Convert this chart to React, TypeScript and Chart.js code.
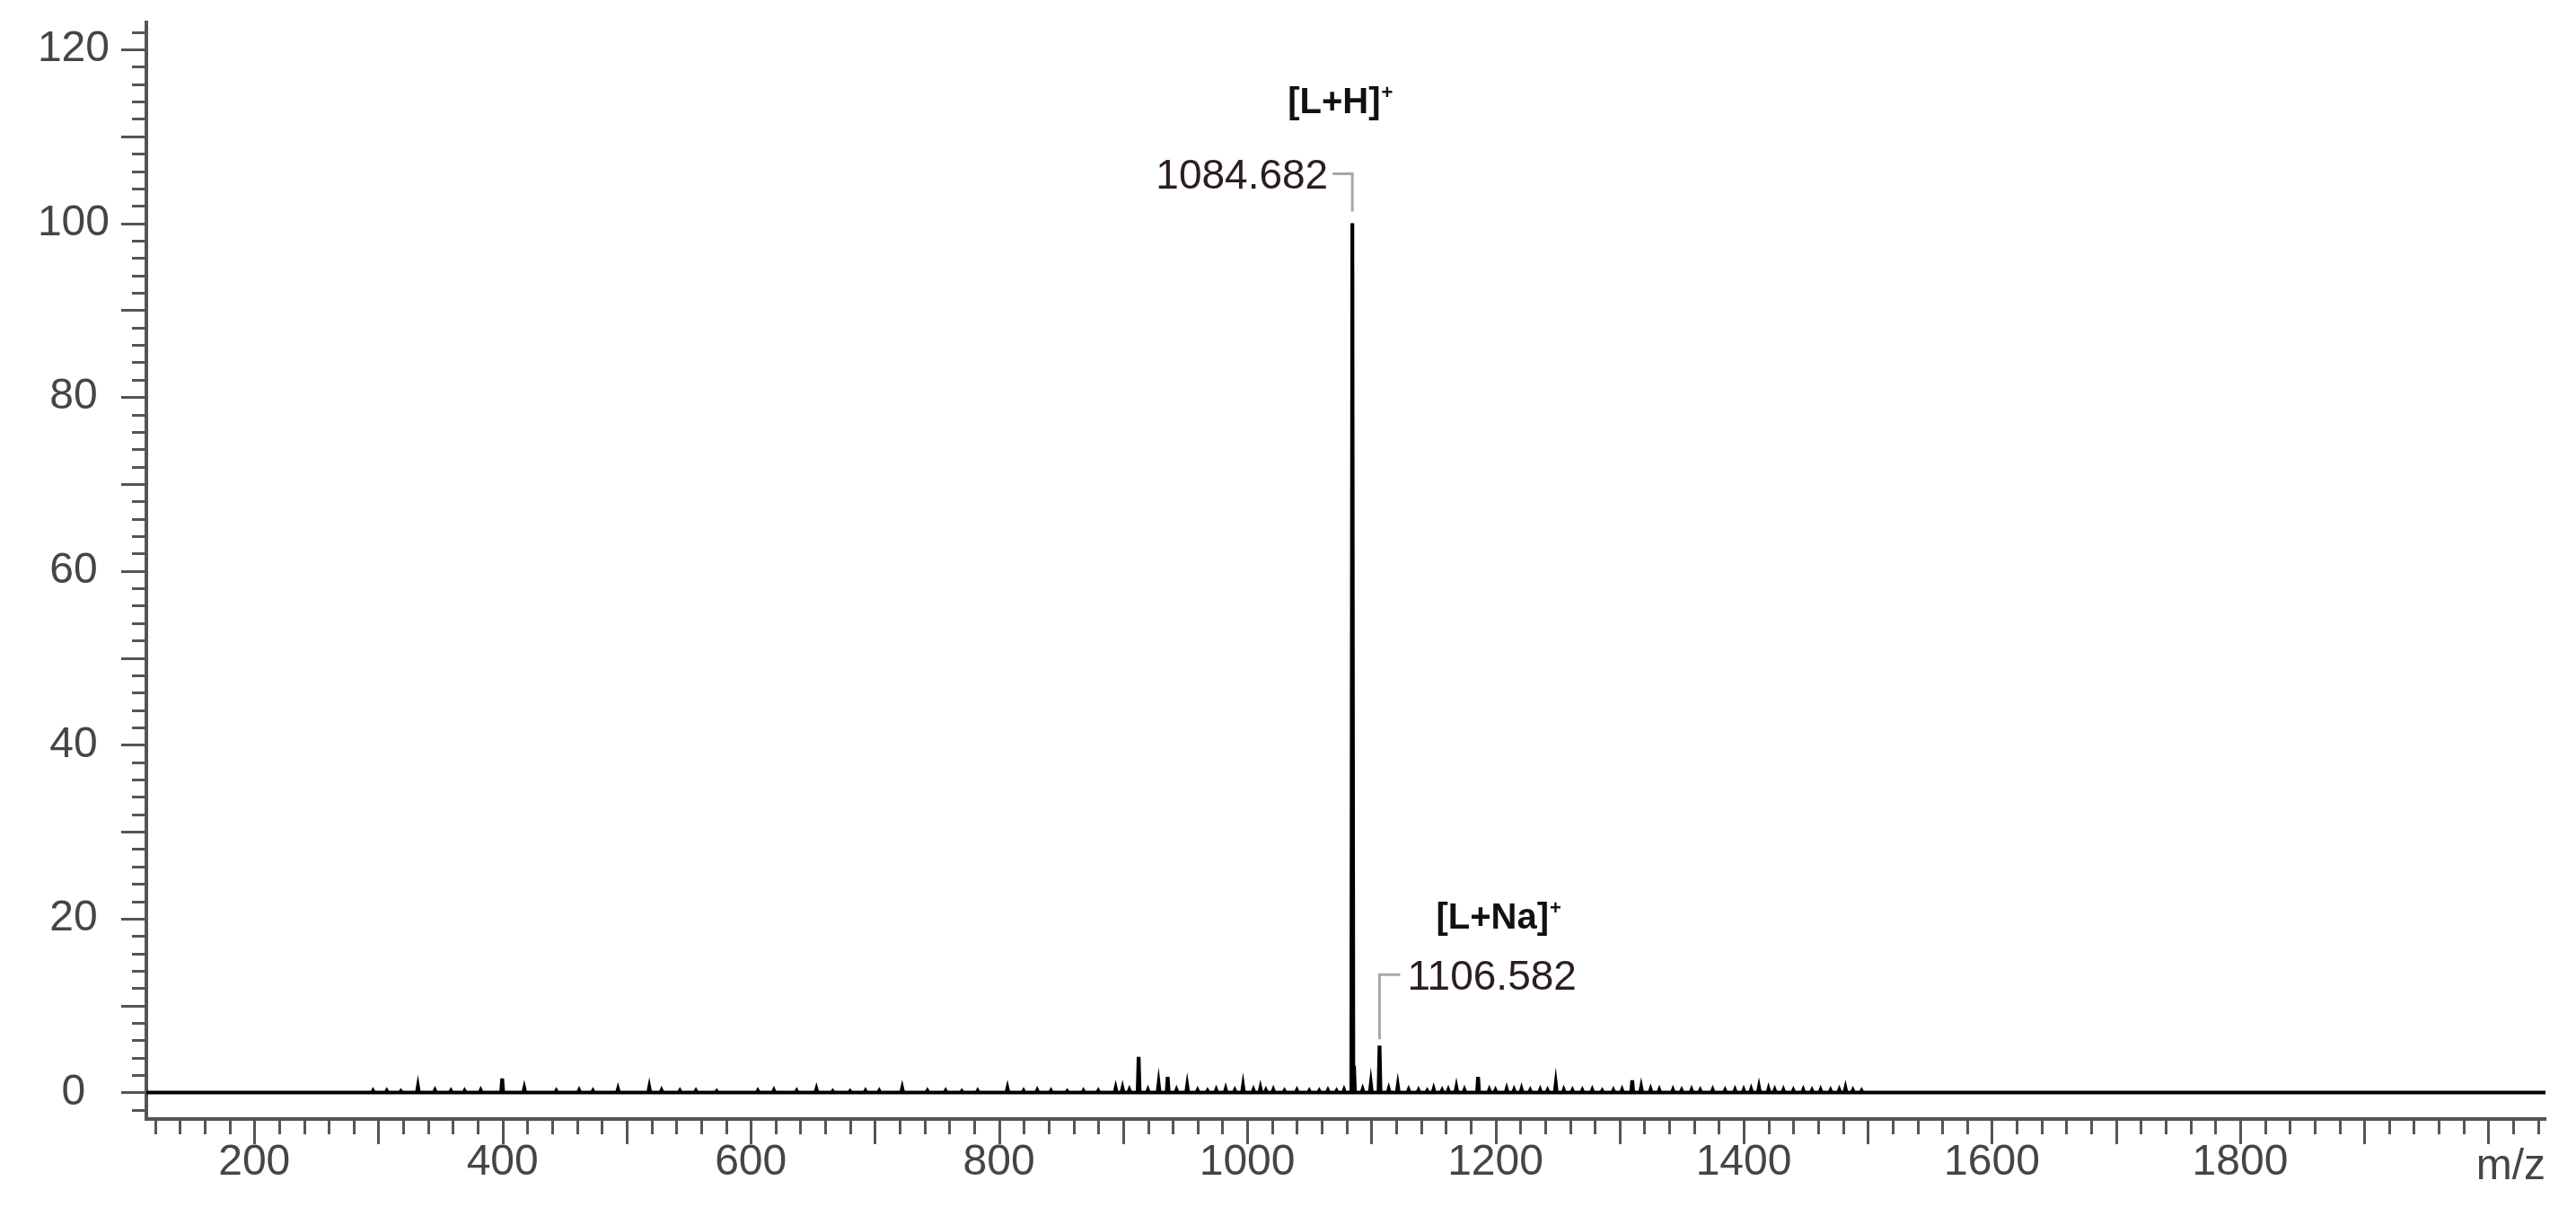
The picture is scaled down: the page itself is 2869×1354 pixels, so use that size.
import React, { useEffect, useRef } from "react";
import { Chart, registerables } from "chart.js";

Chart.register(...registerables);

// ---------- data ----------
const xLabelTicks = [200, 400, 600, 800, 1000, 1200, 1400, 1600, 1800];
const yLabelTicks = [0, 20, 40, 60, 80, 100, 120];
const xRange = [113, 2046];
const yRange = [-3.05, 123.1];
const xAxisUnit = "m/z";

// [m/z, relative intensity]
const majorPeaks: [number, number][] = [
  [331.8, 0.7], [399.7, 1.6], [417.5, 0.5], [493.0, 0.4], [518.2, 0.6],
  [652.9, 0.4], [722.0, 0.5], [806.8, 0.5], [894.0, 0.5], [899.5, 0.5],
  [912.5, 4.1], [928.6, 1.0], [935.9, 1.8], [951.6, 0.8], [982.6, 0.4],
  [996.6, 0.8], [1010.6, 0.5], [1021.0, 0.3], [1084.682, 100], [1086.0, 3.1],
  [1099.6, 1.0], [1106.582, 5.4], [1114.0, 0.4], [1121.3, 0.8], [1150.2, 0.4],
  [1168.5, 0.6], [1186.0, 1.8], [1209.0, 0.4], [1221.0, 0.4], [1248.6, 1.0],
  [1286.0, 0.2], [1310.2, 1.4], [1317.4, 0.6], [1343.0, 0.3], [1412.3, 0.6],
  [1420.0, 0.4], [1482.0, 0.5],
];

const noisePeaks: [number, number][] = [
  [295.6, 0.2], [306.7, 0.2], [318.0, 0.15], [345.5, 0.25], [358.4, 0.2],
  [369.4, 0.2], [382.4, 0.25], [443.3, 0.2], [461.7, 0.25], [472.8, 0.2],
  [528.1, 0.25], [542.9, 0.2], [555.8, 0.2], [572.5, 0.15], [605.7, 0.2],
  [618.6, 0.25], [637.0, 0.2], [666.0, 0.15], [680.0, 0.15], [692.4, 0.2],
  [703.5, 0.2], [742.3, 0.2], [757.0, 0.2], [770.0, 0.15], [782.8, 0.2],
  [819.8, 0.2], [830.8, 0.25], [841.9, 0.2], [855.0, 0.15], [868.0, 0.2],
  [880.0, 0.2], [905.0, 0.3], [920.0, 0.3], [943.0, 0.3], [960.0, 0.25],
  [968.0, 0.2], [975.0, 0.3], [990.0, 0.25], [1005.0, 0.3], [1015.0, 0.25],
  [1030.0, 0.2], [1040.0, 0.25], [1050.0, 0.2], [1058.0, 0.2], [1065.0, 0.25],
  [1072.0, 0.2], [1078.0, 0.3], [1093.0, 0.35], [1130.0, 0.3], [1138.0, 0.25],
  [1145.0, 0.2], [1157.0, 0.25], [1162.0, 0.3], [1175.0, 0.3], [1195.0, 0.3],
  [1200.0, 0.25], [1215.0, 0.3], [1228.0, 0.25], [1236.0, 0.3], [1242.0, 0.25],
  [1255.0, 0.3], [1262.0, 0.25], [1270.0, 0.25], [1278.0, 0.3], [1295.0, 0.25],
  [1302.0, 0.3], [1325.0, 0.35], [1332.0, 0.3], [1350.0, 0.25], [1358.0, 0.3],
  [1365.0, 0.25], [1375.0, 0.3], [1385.0, 0.25], [1393.0, 0.3], [1400.0, 0.3],
  [1406.0, 0.35], [1425.0, 0.3], [1432.0, 0.3], [1440.0, 0.25], [1448.0, 0.3],
  [1455.0, 0.25], [1462.0, 0.3], [1470.0, 0.25], [1477.0, 0.3], [1488.0, 0.25],
  [1495.0, 0.2],
];

const annotationMz = [1084.682, 1106.582];
const annotationIntensity = [100, 5.4];
const annotationText = ["1084.682", "1106.582"];
const ionLabels = ["[L+H]", "[L+Na]"];
const ionCharge = ["+", "+"];

// ---------- styles / layout ----------
const FONT = '"Liberation Sans", Arial, Helvetica, sans-serif';
const AXIS_COLOR = "#555555";
const TICK_TEXT = "#454545";
const STICK_HALF_WIDTH = 0.8;
const annotationLayout = [
  { side: "left", gapTop: 13, riseTop: 55, arm: 22, textGap: 5, ionDx: -72, ionBaseline: -68 },
  { side: "right", gapTop: 7, riseTop: 79, arm: 23, textGap: 8, ionDx: 63, ionBaseline: -51 },
];

function buildSpectrum() {
  const peaks = [...majorPeaks, ...noisePeaks].sort((a, b) => a[0] - b[0]);
  const pts: { x: number; y: number }[] = [{ x: xRange[0], y: 0 }];
  for (const [mz, h] of peaks) {
    pts.push({ x: mz - STICK_HALF_WIDTH, y: 0 });
    pts.push({ x: mz, y: h });
    pts.push({ x: mz + STICK_HALF_WIDTH, y: 0 });
  }
  pts.push({ x: xRange[1], y: 0 });
  return pts;
}

const tickPlugin = {
  id: "msTicks",
  afterDraw(chart: any) {
    const { ctx, chartArea, scales } = chart;
    const xs = scales.x;
    const ys = scales.y;
    ctx.save();
    ctx.strokeStyle = AXIS_COLOR;
    ctx.lineWidth = 3;
    ctx.beginPath();
    for (let v = -2; v <= yRange[1]; v += 2) {
      const py = Math.round(ys.getPixelForValue(v)) + 0.5;
      const len = v % 10 === 0 ? 28 : 16;
      ctx.moveTo(chartArea.left - len, py);
      ctx.lineTo(chartArea.left, py);
    }
    for (let v = 120; v <= xRange[1]; v += 20) {
      const px = Math.round(xs.getPixelForValue(v)) + 0.5;
      const len = v % 100 === 0 ? 28 : 17;
      ctx.moveTo(px, chartArea.bottom);
      ctx.lineTo(px, chartArea.bottom + len);
    }
    ctx.stroke();
    // axis unit label
    ctx.fillStyle = TICK_TEXT;
    ctx.font = `48px ${FONT}`;
    ctx.textAlign = "right";
    ctx.textBaseline = "alphabetic";
    ctx.fillText(xAxisUnit, chartArea.right, chartArea.bottom + 67);
    ctx.restore();
  },
};

const annotationPlugin = {
  id: "msAnnotations",
  afterDatasetsDraw(chart: any) {
    const { ctx, scales } = chart;
    const xs = scales.x;
    const ys = scales.y;
    ctx.save();
    annotationMz.forEach((mz, i) => {
      const L = annotationLayout[i];
      const px = xs.getPixelForValue(mz);
      const top = ys.getPixelForValue(annotationIntensity[i]);
      const lineY = top - L.riseTop;
      const dir = L.side === "left" ? -1 : 1;
      // leader line
      ctx.strokeStyle = "#a8a8a8";
      ctx.lineWidth = 3;
      ctx.beginPath();
      ctx.moveTo(px, top - L.gapTop);
      ctx.lineTo(px, lineY);
      ctx.lineTo(px + dir * L.arm, lineY);
      ctx.stroke();
      // m/z value
      ctx.fillStyle = "#2a1e1e";
      ctx.font = `46px ${FONT}`;
      ctx.textBaseline = "alphabetic";
      ctx.textAlign = L.side === "left" ? "right" : "left";
      ctx.fillText(annotationText[i], px + dir * (L.arm + L.textGap), lineY + 16.5);
      // ion label
      ctx.fillStyle = "#111111";
      ctx.font = `bold 40px ${FONT}`;
      ctx.textAlign = "left";
      const ionX = px + L.ionDx;
      const ionY = lineY + L.ionBaseline;
      ctx.fillText(ionLabels[i], ionX, ionY);
      const w = ctx.measureText(ionLabels[i]).width;
      ctx.font = `bold 22px ${FONT}`;
      ctx.fillText(ionCharge[i], ionX + w + 1, ionY - 16);
    });
    ctx.restore();
  },
};

export default function App() {
  const ref = useRef<HTMLCanvasElement>(null);
  useEffect(() => {
    document.body.style.margin = "0";
    const canvas = ref.current!;
    const chart = new Chart(canvas, {
      type: "line",
      data: {
        datasets: [
          {
            data: buildSpectrum(),
            borderColor: "#000000",
            borderWidth: 4.2,
            pointRadius: 0,
            tension: 0,
            fill: false,
            borderJoinStyle: "miter",
          } as any,
        ],
      },
      options: {
        responsive: false,
        animation: false,
        devicePixelRatio: 1,
        parsing: false,
        events: [],
        layout: { padding: { top: 25, right: 34, left: 0, bottom: 0 } },
        plugins: { legend: { display: false }, tooltip: { enabled: false } },
        scales: {
          x: {
            type: "linear",
            min: xRange[0],
            max: xRange[1],
            afterFit: (s: any) => {
              s.height = 108;
              s.paddingLeft = 0;
              s.paddingRight = 0;
              s.paddingTop = 0;
              s.paddingBottom = 0;
            },
            afterBuildTicks: (s: any) => {
              s.ticks = xLabelTicks.map((v) => ({ value: v }));
            },
            grid: { display: false, drawTicks: false },
            border: { display: true, color: AXIS_COLOR, width: 4 },
            ticks: {
              autoSkip: false,
              maxRotation: 0,
              minRotation: 0,
              padding: 20,
              color: TICK_TEXT,
              font: { family: FONT, size: 48 },
              callback: (v: any) => String(v),
            },
          },
          y: {
            type: "linear",
            min: yRange[0],
            max: yRange[1],
            afterFit: (s: any) => {
              s.width = 163;
              s.paddingLeft = 0;
              s.paddingRight = 0;
              s.paddingTop = 0;
              s.paddingBottom = 0;
            },
            afterBuildTicks: (s: any) => {
              s.ticks = yLabelTicks.map((v) => ({ value: v }));
            },
            grid: { display: false, drawTicks: false },
            border: { display: true, color: AXIS_COLOR, width: 4 },
            ticks: {
              autoSkip: false,
              crossAlign: "center",
              padding: 41,
              color: TICK_TEXT,
              font: { family: FONT, size: 48 },
              callback: (v: any) => String(v),
            },
          },
        },
      } as any,
      plugins: [tickPlugin, annotationPlugin],
    });
    return () => chart.destroy();
  }, []);
  return (
    <div style={{ position: "fixed", left: 0, top: 0, width: 2869, height: 1354, background: "#ffffff" }}>
      <canvas ref={ref} width={2869} height={1354} style={{ display: "block" }} />
    </div>
  );
}
